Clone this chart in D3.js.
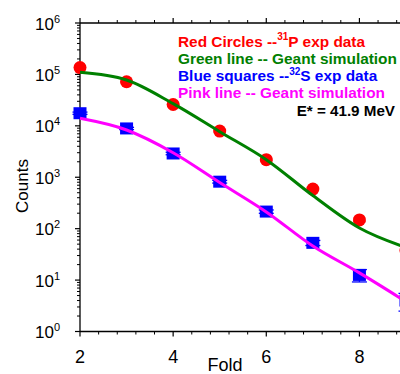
<!DOCTYPE html>
<html>
<head>
<meta charset="utf-8">
<script src="https://cdn.jsdelivr.net/npm/d3@7"></script>
<style>
body{margin:0;background:#fff;}
svg{display:block;font-family:"Liberation Sans",Arial,sans-serif;}
</style>
</head>
<body>
<svg id="chart" width="400" height="374"></svg>
<script>
// fold multiplicity
var folds = [2, 3, 4, 5, 6, 7, 8, 9];
// 31P exp data (red circles)
var p31 = [1.36e5, 7.2e4, 2.6e4, 7.9e3, 2.2e3, 590, 148, 38];
var p31Err = [5000, 2500, 900, 300, 90, 30, 12, 5];
// 32S exp data (blue squares)
var s32 = [1.76e4, 8.9e3, 2.9e3, 820, 215, 53, 12.6, 4];
var s32Err = [900, 450, 160, 50, 16, 6, 3.4, 1.5];
// geant simulations
var simGreen = [1.1e5, 7.8e4, 2.7e4, 7.7e3, 2.2e3, 440, 103, 43];
var simPink = [1.4e4, 8.3e3, 3.0e3, 790, 212, 46, 13.8, 3.8];

var xTicks = [2, 4, 6, 8];
var yTicks = [1, 10, 100, 1000, 1e4, 1e5, 1e6];
var legendRows = [
  {pre: "Red Circles --", sup: "31", post: "P exp data", color: "#ff0000"},
  {pre: "Green line -- Geant simulation", sup: "", post: "", color: "#008000"},
  {pre: "Blue squares --", sup: "32", post: "S exp data", color: "#0000ff"},
  {pre: "Pink line -- Geant simulation", sup: "", post: "", color: "#ff00ff"}
];

var svg = d3.select("#chart");

var x = d3.scaleLinear().domain([2, 9]).range([80, 406]);
var y = d3.scaleLog().domain([1, 1e6]).range([331.5, 23]);

// minor ticks
var xMinor = d3.range(2, 9.01, 0.4).filter(function(v){return Math.abs(v/2-Math.round(v/2))>0.01;});
var yMinor = [];
for(var e=0;e<6;e++){
  for(var m=2;m<10;m++){ yMinor.push(m*Math.pow(10,e)); }
}

var ax = svg.append("g").attr("stroke","#000").attr("fill","none");

// frame lines
ax.append("line").attr("x1",80).attr("x2",406).attr("y1",y(1)).attr("y2",y(1)).attr("stroke-width",1.3);
ax.append("line").attr("x1",80).attr("x2",406).attr("y1",y(1e6)).attr("y2",y(1e6)).attr("stroke-width",1.3);
ax.append("line").attr("x1",80).attr("x2",80).attr("y1",y(1)).attr("y2",y(1e6)).attr("stroke-width",1.3);
ax.append("line").attr("x1",406).attr("x2",406).attr("y1",y(1)).attr("y2",y(1e6)).attr("stroke-width",1.3);

// bottom + top ticks
xTicks.forEach(function(v){
  ax.append("line").attr("x1",x(v)).attr("x2",x(v)).attr("y1",y(1)).attr("y2",y(1)+5).attr("stroke-width",1.2);
  ax.append("line").attr("x1",x(v)).attr("x2",x(v)).attr("y1",y(1e6)).attr("y2",y(1e6)-5).attr("stroke-width",1.2);
});
xMinor.forEach(function(v){
  ax.append("line").attr("x1",x(v)).attr("x2",x(v)).attr("y1",y(1)).attr("y2",y(1)+3).attr("stroke-width",1);
  ax.append("line").attr("x1",x(v)).attr("x2",x(v)).attr("y1",y(1e6)).attr("y2",y(1e6)-3).attr("stroke-width",1);
});
// left + right ticks
yTicks.forEach(function(v){
  ax.append("line").attr("x1",80).attr("x2",75).attr("y1",y(v)).attr("y2",y(v)).attr("stroke-width",1.2);
  ax.append("line").attr("x1",406).attr("x2",411).attr("y1",y(v)).attr("y2",y(v)).attr("stroke-width",1.2);
});
yMinor.forEach(function(v){
  ax.append("line").attr("x1",80).attr("x2",77).attr("y1",y(v)).attr("y2",y(v)).attr("stroke-width",1);
});

// tick labels
xTicks.forEach(function(v){
  svg.append("text").attr("x",x(v)).attr("y",363).attr("text-anchor","middle")
    .attr("font-size",18).text(v);
});
yTicks.forEach(function(v){
  var t = svg.append("text").attr("x",60).attr("y",y(v)+6.5).attr("text-anchor","end").attr("font-size",17);
  t.append("tspan").text("10");
  t.append("tspan").attr("font-size",11).attr("dy",-7).text(Math.round(Math.log10(v)));
});

svg.append("text").attr("x",225).attr("y",371).attr("text-anchor","middle").attr("font-size",18).text("Fold");
svg.append("text").attr("transform","translate(28,186) rotate(-90)").attr("text-anchor","middle")
  .attr("font-size",17).text("Counts");

// error bars
function errBars(vals, errs, color, cap){
  var g = svg.append("g").attr("stroke",color).attr("stroke-width",1.3);
  folds.forEach(function(f,i){
    var lo = vals[i]-errs[i], hi = vals[i]+errs[i];
    g.append("line").attr("x1",x(f)).attr("x2",x(f)).attr("y1",y(lo)).attr("y2",y(hi));
    g.append("line").attr("x1",x(f)-cap).attr("x2",x(f)+cap).attr("y1",y(lo)).attr("y2",y(lo));
    g.append("line").attr("x1",x(f)-cap).attr("x2",x(f)+cap).attr("y1",y(hi)).attr("y2",y(hi));
  });
}
errBars(p31, p31Err, "#ff0000", 6);
errBars(s32, s32Err, "#0000ff", 7.5);

// markers
svg.append("g").selectAll("circle").data(folds).enter().append("circle")
  .attr("cx",function(d){return x(d);})
  .attr("cy",function(d,i){return y(p31[i]);})
  .attr("r",6.5).attr("fill","#ff0000");

svg.append("g").selectAll("rect").data(folds).enter().append("rect")
  .attr("x",function(d){return x(d)-6.5;})
  .attr("y",function(d,i){return y(s32[i])-6;})
  .attr("width",13).attr("height",12).attr("fill","#0000ff");

// simulation curves
var line = d3.line().curve(d3.curveMonotoneX)
  .x(function(d){return x(d[0]);})
  .y(function(d){return y(d[1]);});

svg.append("path").attr("d",line(d3.zip(folds,simGreen)))
  .attr("fill","none").attr("stroke","#008000").attr("stroke-width",3);
svg.append("path").attr("d",line(d3.zip(folds,simPink)))
  .attr("fill","none").attr("stroke","#ff00ff").attr("stroke-width",3);

// legend
legendRows.forEach(function(r,i){
  var t = svg.append("text").attr("x",178).attr("y",46.5+17.3*i)
    .attr("font-size",15.4).attr("font-weight","bold").attr("fill",r.color);
  t.append("tspan").text(r.pre);
  if(r.sup){
    t.append("tspan").attr("font-size",10).attr("dy",-6.5).text(r.sup);
    t.append("tspan").attr("dy",6.5).text(r.post);
  }
});
svg.append("text").attr("x",395).attr("y",46.5+17.3*4).attr("text-anchor","end")
  .attr("font-size",15.2).attr("font-weight","bold").attr("fill","#000").text("E* = 41.9 MeV");
</script>
</body>
</html>
